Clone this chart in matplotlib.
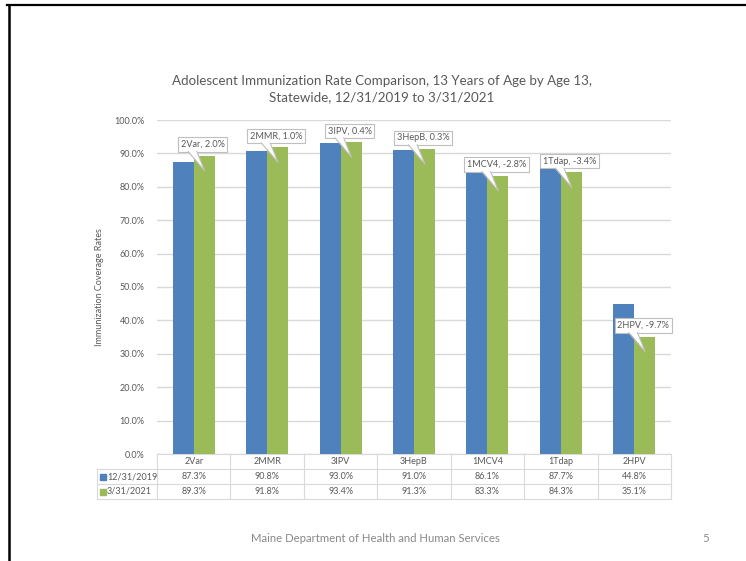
import matplotlib
matplotlib.use('Agg')
import matplotlib.pyplot as plt
from matplotlib.patches import Polygon
from matplotlib.lines import Line2D
from matplotlib.transforms import blended_transform_factory

# Chart data
vaccines = ['2Var', '2MMR', '3IPV', '3HepB', '1MCV4', '1Tdap', '2HPV']
rate_2019 = [87.3, 90.8, 93.0, 91.0, 86.1, 87.7, 44.8]
rate_2021 = [89.3, 91.8, 93.4, 91.3, 83.3, 84.3, 35.1]
series_names = ['12/31/2019', '3/31/2021']
y_ticks = [0, 10, 20, 30, 40, 50, 60, 70, 80, 90, 100]

# Colours
blue = '#4F81BD'
green = '#9BBB59'
grid_colour = '#D9D9D9'
text_colour = '#595959'
callout_edge = '#BFBFBF'

plt.rcParams['font.family'] = ['Lato', 'DejaVu Sans']

W, H = 746, 561
fig = plt.figure(figsize=(W / 100, H / 100), dpi=100)
ax = fig.add_axes([157 / W, 1 - 454 / H, 514 / W, 334 / H])

bar_w = 0.286
xs = list(range(len(vaccines)))
ax.bar([i - bar_w / 2 for i in xs], rate_2019, bar_w, color=blue, zorder=3)
ax.bar([i + bar_w / 2 for i in xs], rate_2021, bar_w, color=green, zorder=3)

ax.set_xlim(-0.5, len(vaccines) - 0.5)
ax.set_ylim(0, 100)
ax.set_yticks(y_ticks)
ax.set_yticklabels([f'{v:.1f}%' for v in y_ticks])
ax.set_xticks([])
ax.yaxis.grid(True, color=grid_colour, lw=1)
ax.set_axisbelow(True)
for s in ax.spines.values():
    s.set_visible(False)
ax.tick_params(axis='y', length=0, pad=9, labelsize=6.5, labelcolor=text_colour)

fig.text(100 / W, 1 - 287 / H, 'Immunization Coverage Rates', rotation=90,
         ha='center', va='center', fontsize=6.5, color=text_colour)

# Callouts with the change between the two dates
for i, (a, b) in enumerate(zip(rate_2019, rate_2021)):
    gx = i + bar_w / 2
    bx = gx - 0.02
    label = f'{vaccines[i]}, {b - a:.1f}%'
    ax.text(bx, b + 1.2 + 2.15, label, ha='center', va='center', fontsize=6.6,
            color=text_colour, zorder=6,
            bbox=dict(boxstyle='square,pad=0.3', fc='white', ec=callout_edge, lw=0.8))
    base_y = b + 1.2 + 0.35
    tip = (gx + 0.005, b - 4.5)
    left = (bx - 0.2, base_y)
    right = (bx - 0.08, base_y)
    ax.add_patch(Polygon([left, tip, right], closed=True, fc='white', ec='none', zorder=7))
    ax.plot([left[0], tip[0], right[0]], [left[1] - 0.3, tip[1], right[1] - 0.3],
            color=callout_edge, lw=0.8, zorder=7)

# Data table under the chart
trans = blended_transform_factory(ax.transData, ax.transAxes)
row_h = 15 / 334
x_left = -0.5 - 60 / 73.43
x_right = len(vaccines) - 0.5
tbl_kw = dict(transform=trans, clip_on=False, color=grid_colour, lw=0.8)
ax.plot([-0.5, x_right], [0, 0], **tbl_kw)
for r in (1, 2, 3):
    ax.plot([x_left, x_right], [-r * row_h, -r * row_h], **tbl_kw)
for k in range(len(vaccines) + 1):
    ax.plot([-0.5 + k, -0.5 + k], [0, -3 * row_h], **tbl_kw)
ax.plot([x_left, x_left], [-row_h, -3 * row_h], **tbl_kw)

for i, name in enumerate(vaccines):
    ax.text(i, -0.5 * row_h, name, transform=trans, ha='center', va='center',
            fontsize=6.5, color=text_colour)
    ax.text(i, -1.5 * row_h, f'{rate_2019[i]:.1f}%', transform=trans, ha='center',
            va='center', fontsize=6.5, color=text_colour)
    ax.text(i, -2.5 * row_h, f'{rate_2021[i]:.1f}%', transform=trans, ha='center',
            va='center', fontsize=6.5, color=text_colour)

for r, (name, col) in enumerate(zip(series_names, [blue, green])):
    yy = -(1.5 + r) * row_h
    ax.plot([-0.5 - 54.5 / 73.43], [yy], marker='s', ms=4.5, color=col,
            transform=trans, clip_on=False)
    ax.text(-0.5 - 50 / 73.43, yy, name, transform=trans, ha='left', va='center',
            fontsize=6.5, color=text_colour)

# Title
fig.text(382 / W, 1 - 89 / H,
         'Adolescent Immunization Rate Comparison, 13 Years of Age by Age 13,\n'
         'Statewide, 12/31/2019 to 3/31/2021',
         ha='center', va='center', fontsize=9.6, color=text_colour, linespacing=1.45)

# Slide footer
fig.text(375 / W, 1 - 538 / H, 'Maine Department of Health and Human Services',
         ha='center', va='center', fontsize=8.2, color='#898989')
fig.text(706 / W, 1 - 538 / H, '5', ha='center', va='center', fontsize=8.2, color='#898989')

# Slide border
fig.add_artist(Line2D([7 / W, 1], [1 - 4.5 / H, 1 - 4.5 / H], transform=fig.transFigure,
                      color='black', lw=1.6))
fig.add_artist(Line2D([8.5 / W, 8.5 / W], [0, 1 - 4.5 / H], transform=fig.transFigure,
                      color='black', lw=1.8))

fig.savefig('out.png', dpi=100)
